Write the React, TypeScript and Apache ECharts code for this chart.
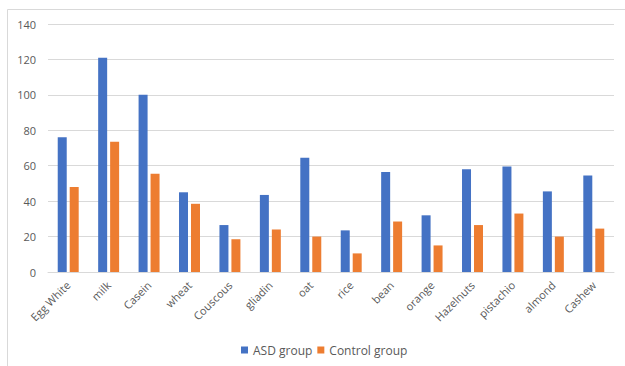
import React, { useEffect, useRef } from "react";
import * as echarts from "echarts";

const categories = ["Egg White", "milk", "Casein", "wheat", "Couscous", "gliadin", "oat", "rice", "bean", "orange", "Hazelnuts", "pistachio", "almond", "Cashew"];
const asdValues = [76, 121, 100, 45, 26.5, 43.5, 64.5, 23.5, 56.5, 32, 58, 59.5, 45.5, 54.5];
const controlValues = [48, 73.5, 55.5, 38.5, 18.5, 24, 20, 10.5, 28.5, 15, 26.5, 33, 20, 24.5];
const yTicks = { min: 0, max: 140, interval: 20 };

export default function App() {
  const ref = useRef<HTMLDivElement>(null);
  useEffect(() => {
    if (!ref.current) return;
    const chart = echarts.init(ref.current, null, { renderer: "svg" });
    const font = "'Open Sans', 'Liberation Sans', sans-serif";
    chart.setOption({
      animation: false,
      backgroundColor: "#ffffff",
      textStyle: { fontFamily: font },
      graphic: [
        {
          type: "rect",
          shape: { x: 7.5, y: 9.5, width: 700, height: 500 },
          style: { fill: "none", stroke: "#d9d9d9", lineWidth: 1 },
          silent: true,
        },
      ],
      grid: { left: 48, right: 11, top: 24, bottom: 94, containLabel: false },
      legend: {
        bottom: 5,
        left: 236,
        itemWidth: 7,
        itemHeight: 7,
        itemGap: 5,
        icon: "rect",
        textStyle: { color: "#595959", fontSize: 12, fontFamily: font },
        data: ["ASD group", "Control group"],
      },
      xAxis: {
        type: "category",
        data: categories,
        axisLine: { lineStyle: { color: "#d9d9d9" } },
        axisTick: { show: false },
        axisLabel: { rotate: 45, color: "#595959", fontSize: 11, interval: 0, margin: 11, fontFamily: font },
      },
      yAxis: {
        type: "value",
        min: yTicks.min,
        max: yTicks.max,
        interval: yTicks.interval,
        axisLine: { show: false },
        axisTick: { show: false },
        axisLabel: { color: "#595959", fontSize: 11, margin: 12, fontFamily: font },
        splitLine: { lineStyle: { color: "#d9d9d9" } },
      },
      series: [
        {
          name: "ASD group",
          type: "bar",
          data: asdValues,
          barWidth: 9,
          barGap: "33%",
          itemStyle: { color: "#4472C4" },
        },
        {
          name: "Control group",
          type: "bar",
          data: controlValues,
          barWidth: 9,
          itemStyle: { color: "#ED7D31" },
        },
      ],
    });
    return () => chart.dispose();
  }, []);
  return <div ref={ref} style={{ position: "absolute", left: 0, top: 0, width: 625, height: 366 }} />;
}
